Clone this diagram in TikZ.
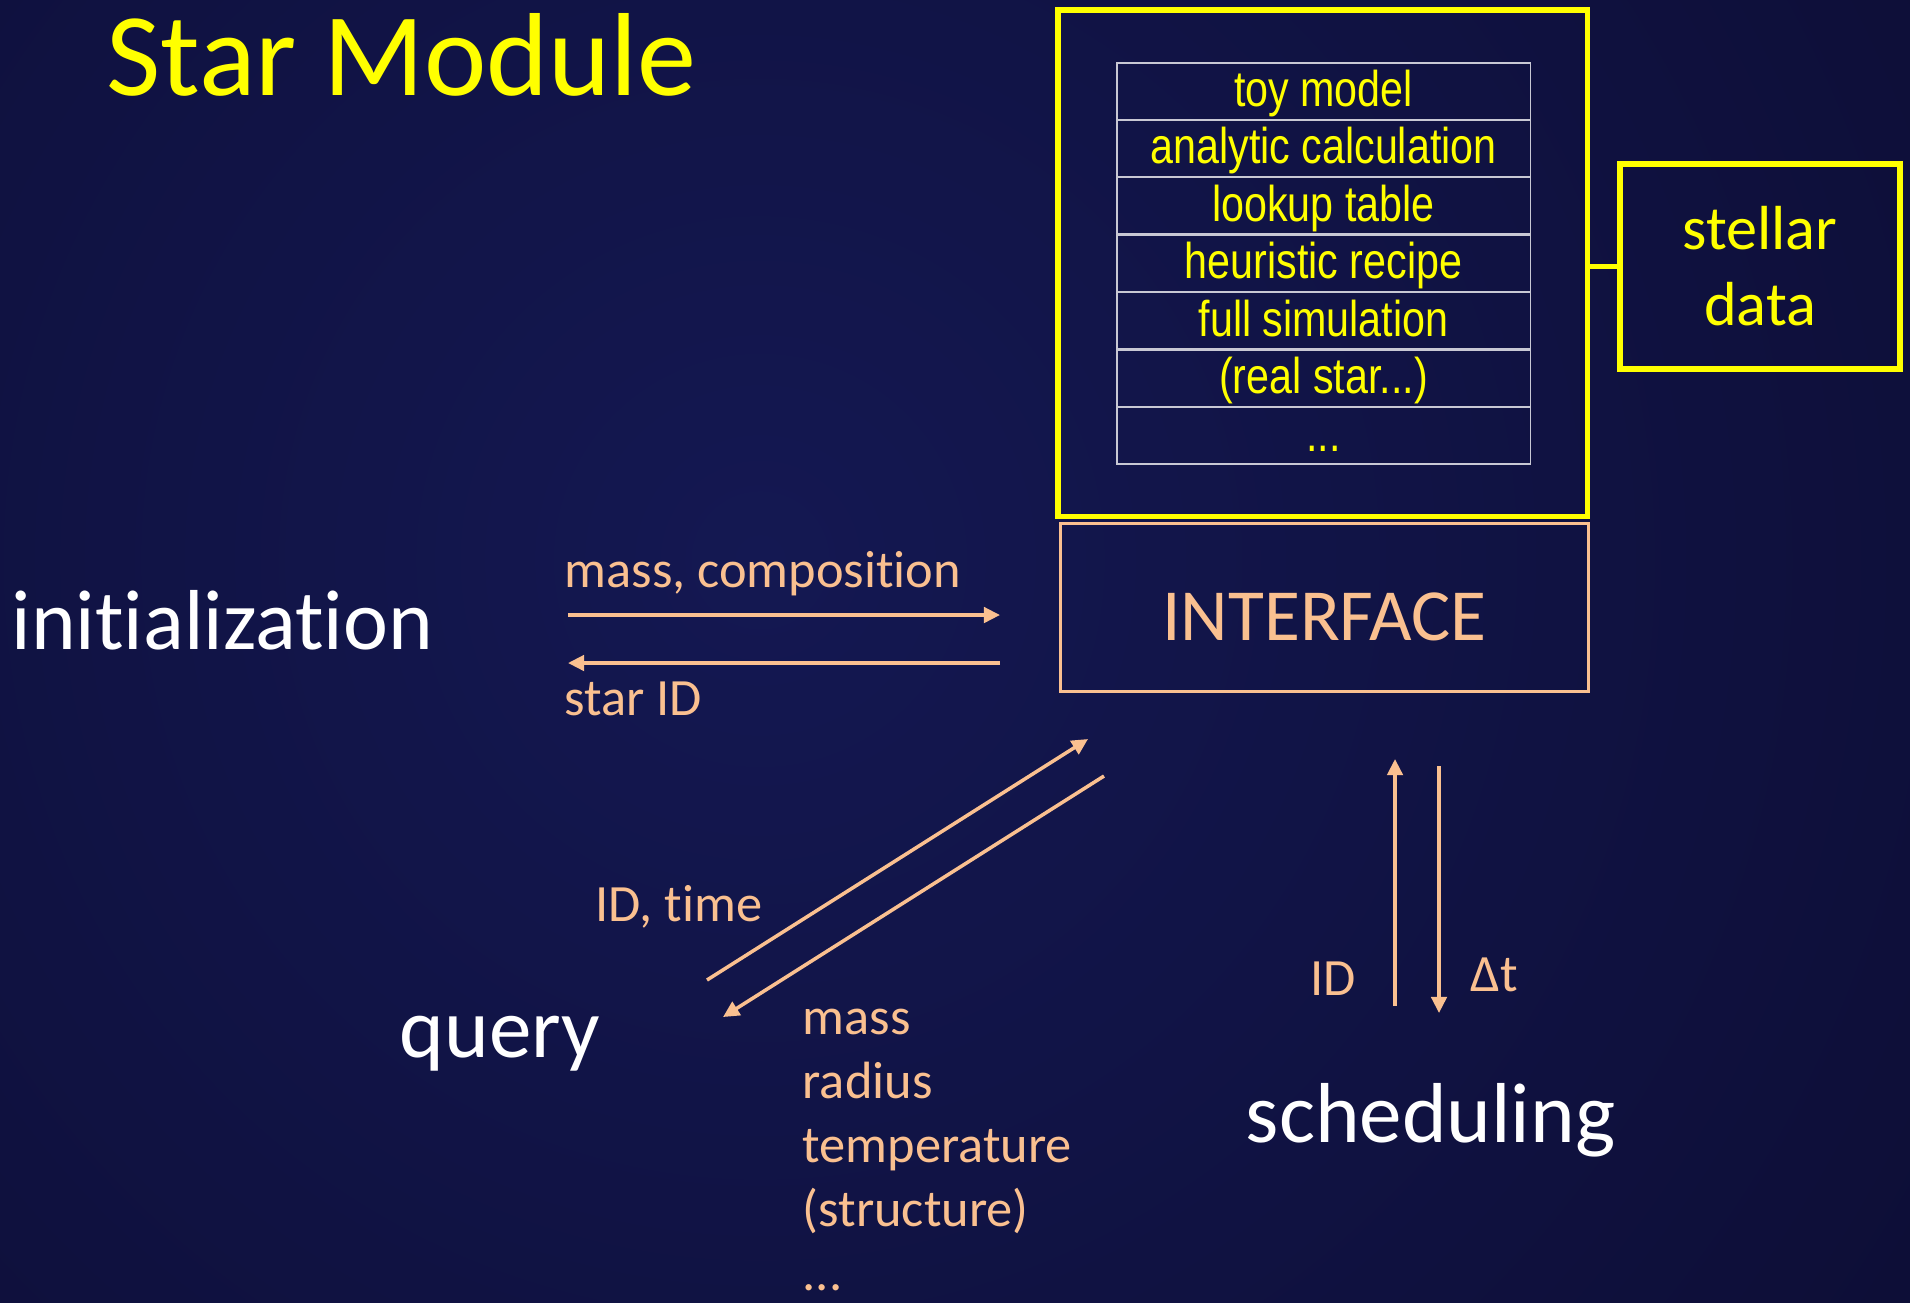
\documentclass[tikz,border=0pt]{standalone}
\usepackage{fontspec}
\setmainfont{Carlito}
\newfontfamily\narrowfont[FakeStretch=0.82]{Liberation Sans}
\usetikzlibrary{arrows.meta,positioning}
\definecolor{slideyellow}{RGB}{255,255,0}
\definecolor{peach}{RGB}{250,192,144}
\definecolor{bginner}{RGB}{20,24,82}
\definecolor{bgouter}{RGB}{9,8,38}
\definecolor{gridgray}{RGB}{200,200,212}
% keeps t and i apart (no ti ligature)
\newcommand\tisplit{t\kern0pt i}

\begin{document}
\begin{tikzpicture}[x=0.01cm,y=-0.01cm,
  every node/.style={inner sep=0pt},
  big/.style={anchor=base west,text=white,font=\fontsize{24.2}{29}\selectfont},
  lbl/.style={anchor=base west,text=peach,font=\fontsize{14.9}{18}\selectfont},
  cell/.style={draw=gridgray,line width=0.35pt,minimum width=4.13cm,minimum height=0.562cm,
    text=slideyellow,font=\narrowfont\fontsize{14.3}{17}\selectfont,text height=11.5pt,text depth=2.8pt},
  ybox/.style={draw=slideyellow,line width=1.5pt},
  flow/.style={draw=peach,line width=1pt,-{Triangle[length=4.6pt,width=4.4pt]}}]
  % background
  \fill[bgouter] (0,0) rectangle (1910,1302);
  \begin{scope}
    \clip (0,0) rectangle (1910,1302);
    \shade[inner color=bginner,outer color=bgouter] (760,560) circle (22cm);
  \end{scope}
  \useasboundingbox (0,0) rectangle (1910,1302);

  \node[anchor=base west,text=slideyellow,font=\fontsize{33.6}{40}\selectfont] (title) at (106,95) {Star Module};

  % engines and data
  \node[ybox,minimum width=5.29cm,minimum height=5.06cm] (engines) at (1322.5,263) {};
  \node[cell] (toy) at (1323.5,91) {toy model};
  \node[cell,below=0pt of toy] (analytic) {analytic calculation};
  \node[cell,below=0pt of analytic] (lookup) {lookup table};
  \node[cell,below=0pt of lookup] (heuristic) {heuristic recipe};
  \node[cell,below=0pt of heuristic] (fullsim) {full simulation};
  \node[cell,below=0pt of fullsim] (realstar) {(real star...)};
  \node[cell,below=0pt of realstar] (more) {...};
  \node[ybox,minimum width=2.8cm,minimum height=2.05cm,align=center,text=slideyellow,
    font=\fontsize{17.7}{21.6}\selectfont] (data) at (1760,266.5) {stellar\\data};
  \draw[ybox] (data.west) -- (data.west -| engines.east);

  \node[draw=peach,line width=0.85pt,minimum width=5.27cm,minimum height=1.67cm,text=peach,
    font=\fontsize{20.9}{25}\selectfont,text height=19pt,text depth=0pt] (iface) at (1324.5,607.5) {INTERFACE};

  % the three uses
  \node[big] (init) at (11,649) {ini\tisplit aliza\tisplit on};
  \node[big] (query) at (399,1057) {query};
  \node[big] (sched) at (1245,1142) {scheduling};

  \coordinate (initout) at (568,615);
  \coordinate (ifacein) at (1000,615);
  \coordinate (ifaceout) at (1000,663);
  \coordinate (initin) at (568,663);
  \draw[flow] (initout) -- (ifacein);
  \draw[flow] (ifaceout) -- (initin);
  \node[lbl] (masscomp) at (564,587) {mass, composi\tisplit on};
  \node[lbl] (starid) at (564,715) {star ID};

  \coordinate (queryout) at (707,980);
  \coordinate (queryto) at (1088,739);
  \coordinate (queryfrom) at (1104,776);
  \coordinate (queryin) at (723,1017);
  \draw[flow] (queryout) -- (queryto);
  \draw[flow] (queryfrom) -- (queryin);
  \node[lbl] (idtime) at (595,921) {ID, \tisplit me};
  \node[lbl] (omass) at (802,1034) {mass};
  \node[lbl] (oradius) at (802,1098) {radius};
  \node[lbl] (otemp) at (802,1162) {temperature};
  \node[lbl] (ostruct) at (802,1226) {(structure)};
  \node[lbl] (odots) at (802,1290) {...};

  \coordinate (schedout) at (1395,1006);
  \coordinate (schedto) at (1395,759);
  \coordinate (schedfrom) at (1439,766);
  \coordinate (schedin) at (1439,1013);
  \draw[flow] (schedout) -- (schedto);
  \draw[flow] (schedfrom) -- (schedin);
  \node[lbl] (idlbl) at (1310,995) {ID};
  \node[lbl] (dtlbl) at (1470,991) {Δt};
\end{tikzpicture}
\end{document}
